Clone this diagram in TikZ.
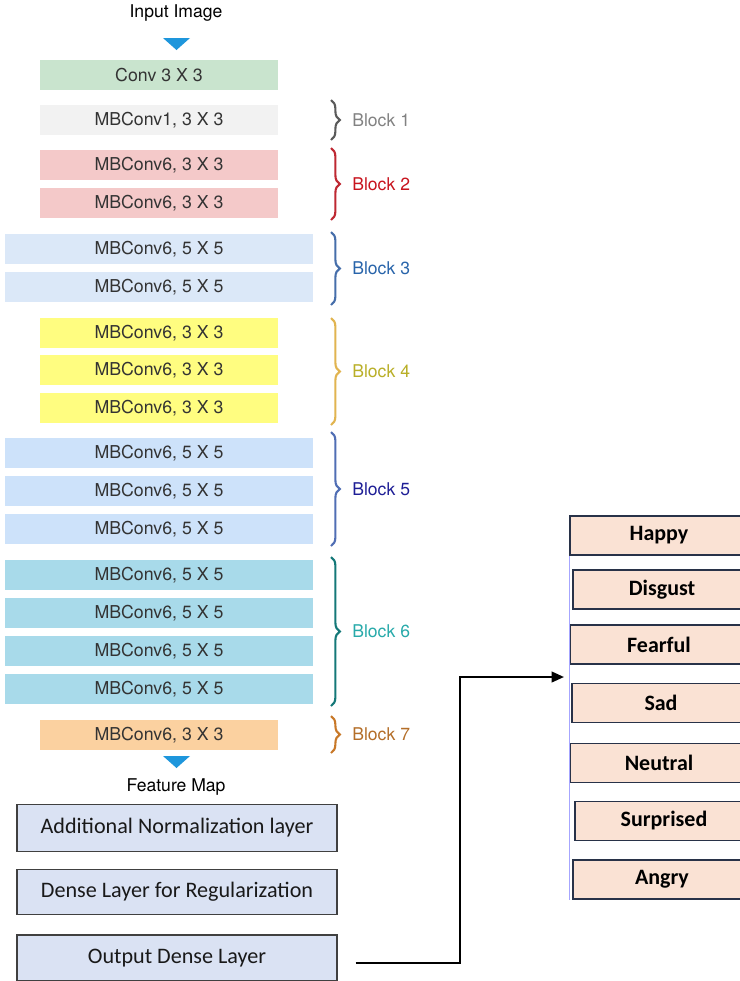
\documentclass[tikz,border=0pt]{standalone}
\usepackage{fontspec}
\setmainfont{TeX Gyre Heros}
\newfontfamily\carlito{Carlito}
\usetikzlibrary{decorations.pathreplacing,arrows.meta}

\definecolor{convgreen}{RGB}{201,228,206}
\definecolor{mbgray}{RGB}{242,242,242}
\definecolor{mbred}{RGB}{244,201,201}
\definecolor{mbblue}{RGB}{219,232,248}
\definecolor{mbyellow}{RGB}{255,253,128}
\definecolor{mbsky}{RGB}{205,226,250}
\definecolor{mbteal}{RGB}{168,218,234}
\definecolor{mborange}{RGB}{251,209,160}
\definecolor{headlav}{RGB}{218,226,243}
\definecolor{emopeach}{RGB}{250,226,212}
\definecolor{emoline}{RGB}{40,50,72}
\definecolor{tricol}{RGB}{30,150,220}
\definecolor{brA}{RGB}{90,90,90}     \definecolor{lbA}{RGB}{130,130,130}
\definecolor{brB}{RGB}{190,40,50}    \definecolor{lbB}{RGB}{200,20,30}
\definecolor{brC}{RGB}{70,110,170}   \definecolor{lbC}{RGB}{40,100,170}
\definecolor{brD}{RGB}{225,180,80}   \definecolor{lbD}{RGB}{185,175,40}
\definecolor{brE}{RGB}{80,110,180}   \definecolor{lbE}{RGB}{30,30,150}
\definecolor{brF}{RGB}{20,120,120}   \definecolor{lbF}{RGB}{40,170,170}
\definecolor{brG}{RGB}{200,120,40}   \definecolor{lbG}{RGB}{180,110,40}

\begin{document}
\begin{tikzpicture}
	[x=0.02cm,y=-0.02cm,
	layer/.style={rectangle,minimum width=4.76cm,minimum height=0.6cm,inner sep=0pt,text=black!80,font=\fontsize{10.1}{12}\selectfont},
	wide/.style={layer,minimum width=6.16cm},
	head/.style={rectangle,draw=black!75,line width=0.8pt,fill=headlav,minimum width=6.4cm,inner sep=0pt,text=black!90,font=\carlito\fontsize{12.6}{15}\selectfont},
	emo/.style={rectangle,draw=emoline,line width=0.8pt,fill=emopeach,minimum width=3.56cm,minimum height=0.78cm,inner sep=0pt,font=\carlito\bfseries\fontsize{12.5}{15}\selectfont},
	bracket/.style={decorate,decoration={brace,amplitude=5pt},line width=1.2pt},
	tag/.style={anchor=west,inner sep=0pt,font=\fontsize{10}{12}\selectfont},
	flow/.style={-{Triangle[length=7pt,width=6pt]},line width=1.2pt}]
	\clip (0,0) rectangle (740,981);
	\fill[white] (0,0) rectangle (740,981);
	% backbone
	\node[inner sep=0pt,font=\fontsize{10}{12}\selectfont] (input) at (176,13) {Input Image};
	\fill[tricol] (163,38) -- (190,38) -- (176.5,50) -- cycle;
	\node[layer,fill=convgreen] (conv) at (159,75) {Conv 3 X 3};
	\node[layer,fill=mbgray] (b1a) at (159,120) {MBConv1, 3 X 3};
	\node[layer,fill=mbred] (b2a) at (159,165) {MBConv6, 3 X 3};
	\node[layer,fill=mbred] (b2b) at (159,203) {MBConv6, 3 X 3};
	\node[wide,fill=mbblue] (b3a) at (159,249) {MBConv6, 5 X 5};
	\node[wide,fill=mbblue] (b3b) at (159,287) {MBConv6, 5 X 5};
	\node[layer,fill=mbyellow] (b4a) at (159,333) {MBConv6, 3 X 3};
	\node[layer,fill=mbyellow] (b4b) at (159,370) {MBConv6, 3 X 3};
	\node[layer,fill=mbyellow] (b4c) at (159,408) {MBConv6, 3 X 3};
	\node[wide,fill=mbsky] (b5a) at (159,453) {MBConv6, 5 X 5};
	\node[wide,fill=mbsky] (b5b) at (159,491) {MBConv6, 5 X 5};
	\node[wide,fill=mbsky] (b5c) at (159,529) {MBConv6, 5 X 5};
	\node[wide,fill=mbteal] (b6a) at (159,575) {MBConv6, 5 X 5};
	\node[wide,fill=mbteal] (b6b) at (159,613) {MBConv6, 5 X 5};
	\node[wide,fill=mbteal] (b6c) at (159,651) {MBConv6, 5 X 5};
	\node[wide,fill=mbteal] (b6d) at (159,689) {MBConv6, 5 X 5};
	\node[layer,fill=mborange] (b7a) at (159,735) {MBConv6, 3 X 3};
	\fill[tricol] (163,756) -- (190,756) -- (176.5,768) -- cycle;
	\node[inner sep=0pt,font=\fontsize{10}{12}\selectfont] (fmap) at (176,787) {Feature Map};
	% braces
	\foreach \n/\ya/\yb/\bc/\lc in {1/100/140/brA/lbA,2/148/220/brB/lbB,3/232/305/brC/lbC,
		4/318/425/brD/lbD,5/432/546/brE/lbE,6/557/706/brF/lbF,7/716/753/brG/lbG}
	{
		\draw[bracket,\bc] (331,\ya) -- (331,\yb);
		\node[tag,text=\lc] (blk\n) at (352,{(\ya+\yb)/2}) {Block \n};
	}
	% head
	\node[head,minimum height=0.94cm] (norm) at (177,828) {Additional Normalization layer};
	\node[head,minimum height=0.9cm] (dense) at (177,892) {Dense Layer for Regularization};
	\node[head,minimum height=0.92cm] (out) at (177,958) {Output Dense Layer};
	% classes
	\node[emo] (happy) at (659,535.5) {Happy};
	\node[emo] (disgust) at (662,589.5) {Disgust};
	\node[emo] (fearful) at (659,644.5) {Fearful};
	\node[emo] (sad) at (661,703) {Sad};
	\node[emo] (neutral) at (659,763) {Neutral};
	\node[emo] (surprised) at (664,821) {Surprised};
	\node[emo] (angry) at (662,879.5) {Angry};
	\draw[blue!35,line width=0.5pt] (happy.south west) -- (happy.south west |- angry.south);
	\coordinate (bend) at (460,677);
	\coordinate (tgt) at (564,677);
	\draw[flow] ([shift={(18,5)}]out.east) -| (bend) -- (tgt);
\end{tikzpicture}
\end{document}
